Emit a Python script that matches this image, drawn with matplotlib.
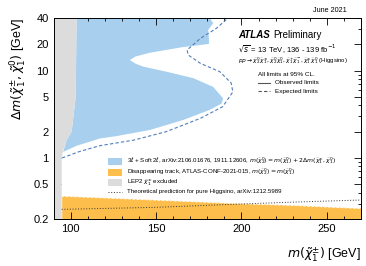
import matplotlib
matplotlib.use("Agg")
import matplotlib.pyplot as plt
from matplotlib.patches import Rectangle
from matplotlib.lines import Line2D
from matplotlib.ticker import FixedLocator, NullFormatter, MultipleLocator, LogLocator

plt.rcParams['font.family'] = ['Liberation Sans', 'DejaVu Sans']
plt.rcParams['mathtext.fontset'] = 'dejavusans'

# ---- data ----
# observed 3l + soft 2l exclusion contour (m_chargino [GeV], dm [GeV])
obs_m = [103.5, 181.5, 183.5, 180.5, 181.0, 181.0, 165.9, 146.4, 138.0, 134.7,
         138.0, 142.5, 156.2, 171.8, 183.5, 189.3, 188.4, 181.5, 165.9, 146.4,
         127.0, 117.2, 103.6, 95.6, 97.7, 100.6, 101.6, 103.0, 103.5]
obs_dm = [40.0, 40.0, 34.8, 29.2, 23.0, 20.2, 18.6, 16.0, 14.5, 13.2,
          12.0, 11.1, 9.7, 8.2, 6.5, 4.8, 4.2, 3.55, 2.72, 2.09,
          1.78, 1.67, 1.38, 1.17, 1.6, 2.0, 2.9, 5.0, 40.0]
# expected 3l + soft 2l limit
exp_m = [95.0, 105.0, 117.0, 137.0, 156.0, 176.0, 189.0, 195.0, 194.0, 187.4,
         176.0, 168.8, 168.2, 176.0, 185.4, 192.2]
exp_dm = [1.0, 1.18, 1.38, 1.6, 2.0, 2.84, 3.86, 5.7, 7.2, 9.7,
          12.1, 15.1, 17.2, 23.4, 30.5, 40.0]
# LEP2 excluded region boundary
lep_m = [90.0, 94.8, 94.8, 95.7, 97.7, 100.6, 101.6, 103.0, 103.5, 90.0]
lep_dm = [0.2, 0.2, 1.0, 1.23, 1.6, 2.0, 2.9, 5.0, 40.0, 40.0]
# disappearing track excluded region upper edge
dt_m = [94.8, 140.0, 183.0, 200.0, 230.0, 270.0]
dt_dm = [0.37, 0.34, 0.313, 0.303, 0.29, 0.267]
# theoretical prediction for pure Higgsino
th_m = [94.8, 150.0, 190.0, 230.0, 270.0]
th_dm = [0.258, 0.272, 0.292, 0.312, 0.33]

x_ticks = [100, 150, 200, 250]
y_ticks = [0.2, 0.5, 1, 2, 5, 10, 20, 40]
y_labels = ["0.2", "0.5", "1", "2", "5", "10", "20", "40"]

legend_labels = [
    r'3$\ell$ + Soft 2$\ell$, arXiv:2106.01676, 1911.12606, $m(\tilde{\chi}^{0}_{2}) = m(\tilde{\chi}^{0}_{1}) + 2\Delta m(\tilde{\chi}^{\pm}_{1}, \tilde{\chi}^{0}_{1})$',
    r'Disappearing track, ATLAS-CONF-2021-015, $m(\tilde{\chi}^{0}_{2}) = m(\tilde{\chi}^{0}_{1})$',
    r'LEP2 $\tilde{\chi}^{\pm}_{1}$ excluded',
    'Theoretical prediction for pure Higgsino, arXiv:1212.5989']

c_blue = "#a8d0ee"
c_orange = "#fdbe4c"
c_gray = "#dcdcdc"
c_dash = "#4f7fba"
c_theory = "#333333"

W, H = 366, 266
fig = plt.figure(figsize=(W/100, H/100), dpi=100)
ax = fig.add_axes([53.5/W, 47/H, 307.5/W, 201/H])

ax.fill(obs_m, obs_dm, color=c_blue, lw=0, zorder=1)
ax.plot(exp_m, exp_dm, color=c_dash, lw=0.8, ls=(0, (3, 2)), zorder=3)
ax.fill_between(dt_m, [0.2]*len(dt_m), dt_dm, color=c_orange, lw=0, zorder=1)
ax.plot(dt_m, [v*0.985 for v in dt_dm], color="white", lw=0.6, ls=(0, (3, 2)), zorder=2)
ax.fill(lep_m, lep_dm, color=c_gray, lw=0, zorder=2)
ax.plot(th_m, th_dm, color=c_theory, lw=0.7, ls=(0, (1, 1.8)), zorder=4)

ax.set_yscale('log')
ax.set_xlim(90, 270)
ax.set_ylim(0.2, 40)
ax.xaxis.set_major_locator(FixedLocator(x_ticks))
ax.xaxis.set_minor_locator(MultipleLocator(10))
ax.yaxis.set_major_locator(FixedLocator(y_ticks))
ax.set_yticklabels(y_labels)
ax.yaxis.set_minor_locator(LogLocator(base=10, subs=range(1, 10)))
ax.yaxis.set_minor_formatter(NullFormatter())
ax.tick_params(which='both', direction='in', top=True, right=True, labelsize=8, width=0.6)
ax.tick_params(which='major', length=5)
ax.tick_params(which='minor', length=2.5)
for s in ax.spines.values():
    s.set_linewidth(0.7)

ax.set_ylabel(r'$\Delta m(\tilde{\chi}^{\pm}_{1}, \tilde{\chi}^{0}_{1})$ [GeV]', fontsize=9, labelpad=3, loc='top')
ax.set_xlabel(r'$m(\tilde{\chi}^{\pm}_{1})$ [GeV]', fontsize=9, loc='right', labelpad=8)

# ---- main legend (placed manually in figure pixels) ----
def fx(px):
    return px / W

def fy(py):
    return 1 - py / H

row_y = [161.0, 172.0, 182.5, 192.0]
handle_cols = [c_blue, c_orange, c_gray, None]
for yy, col, lab in zip(row_y, handle_cols, legend_labels):
    if col is not None:
        fig.patches.append(Rectangle((fx(108), fy(yy + 3.5)), fx(13.7), 7/H, color=col, lw=0,
                                     transform=fig.transFigure, figure=fig))
    else:
        fig.lines.append(Line2D([fx(108), fx(121.7)], [fy(yy), fy(yy)], color=c_theory, lw=0.7,
                                ls=(0, (1, 1.8)), transform=fig.transFigure, figure=fig))
    fig.text(fx(126.7), fy(yy), lab, fontsize=4.45, va='center', ha='left')

# ---- limit-type legend ----
fig.text(fx(258), fy(74), 'All limits at 95% CL.', fontsize=4.6, va='center', ha='left')
fig.lines.append(Line2D([fx(258), fx(270)], [fy(83), fy(83)], color="#555555", lw=0.8,
                        transform=fig.transFigure, figure=fig))
fig.text(fx(275), fy(83), 'Observed limits', fontsize=4.6, va='center', ha='left')
fig.lines.append(Line2D([fx(258), fx(270)], [fy(91), fy(91)], color="#555555", lw=0.8, ls=(0, (3, 2)),
                        transform=fig.transFigure, figure=fig))
fig.text(fx(275), fy(91), 'Expected limits', fontsize=4.6, va='center', ha='left')

fig.text(fx(313), fy(11), 'June 2021', fontsize=5.2, va='center', ha='left')
fig.text(fx(238), fy(35), 'ATLAS', fontsize=7, fontweight='bold', fontstyle='italic', va='center', ha='left')
fig.text(fx(273), fy(35), 'Preliminary', fontsize=7, va='center', ha='left')
fig.text(fx(238), fy(49), r'$\sqrt{s}$ = 13 TeV, 136 - 139 fb$^{-1}$', fontsize=5.5, va='center', ha='left')
fig.text(fx(238), fy(61),
         r'$pp \rightarrow \tilde{\chi}^{0}_{2}\tilde{\chi}^{\pm}_{1}, \tilde{\chi}^{0}_{2}\tilde{\chi}^{0}_{1}, \tilde{\chi}^{+}_{1}\tilde{\chi}^{-}_{1}, \tilde{\chi}^{\pm}_{1}\tilde{\chi}^{0}_{1}$ (Higgsino)',
         fontsize=4.3, va='center', ha='left')

fig.savefig('out.png', dpi=100)
